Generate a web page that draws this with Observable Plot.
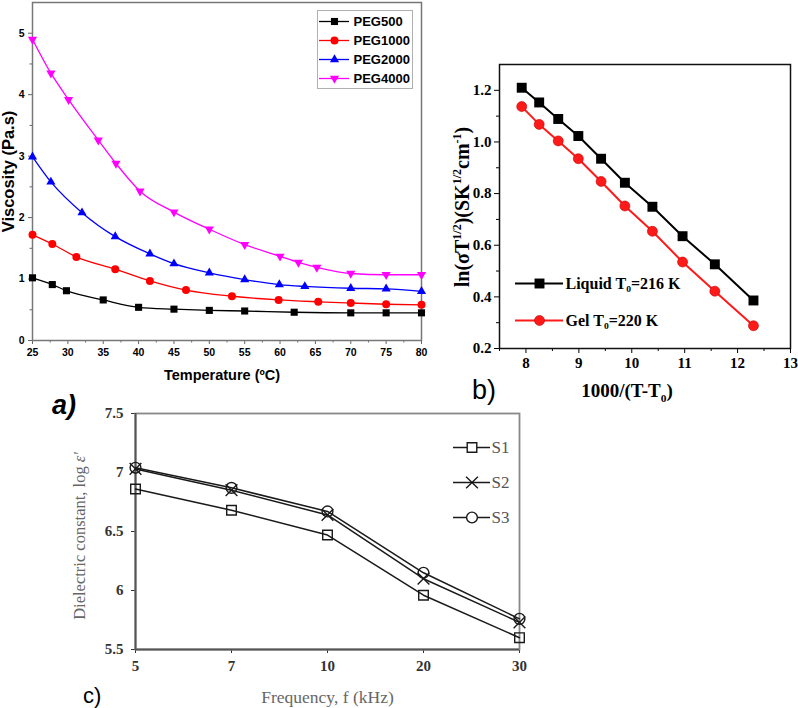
<!DOCTYPE html>
<html>
<head>
<meta charset="utf-8">
<script src="https://cdn.jsdelivr.net/npm/d3@7"></script>
<script src="https://cdn.jsdelivr.net/npm/@observablehq/plot@0.6"></script>
<style>
  body { margin: 0; background: #fff; }
  #page { position: relative; width: 798px; height: 708px; overflow: hidden; }
  .layer { position: absolute; }
  .lbl { position: absolute; white-space: nowrap; line-height: 1; }
  .rot { transform: translate(-50%, -50%) rotate(-90deg); }
  .mid { transform: translate(-50%, -50%); }
  sup, sub { font-size: 0.6em; line-height: 0; }
</style>
</head>
<body>
<div id="page">
  <div class="lbl" style="left:52px;top:390px;font:italic bold 27px 'Liberation Sans';">a)</div>
  <div class="lbl" style="left:472px;top:375px;font:27px 'Liberation Sans';">b)</div>
  <div class="lbl" style="left:83px;top:683px;font:22px 'Liberation Sans';">c)</div>
  <div class="lbl rot" style="left:462px;top:207px;font:bold 20px 'Liberation Serif';">ln(σT<sup>1/2</sup>)(SK<sup>1/2</sup>cm<sup>-1</sup>)</div>
  <div class="lbl mid" style="left:627px;top:391px;font:bold 19px 'Liberation Serif';">1000/(T-T<sub>0</sub>)</div>
  <div class="lbl rot" style="left:80px;top:536px;font:16.5px 'Liberation Serif';color:#666;">Dielectric constant, log <i>ε'</i></div>
</div>
<script>
// a) viscosity vs temperature
const pegNames = ["PEG500", "PEG1000", "PEG2000", "PEG4000"];
const pegColors = ["#000000", "#ff0000", "#0000ff", "#ff00ff"];
const peg500Temp = [25, 27.8, 29.8, 35, 40, 45, 50, 55, 62, 70, 75, 80];
const peg500Visc = [1.02, 0.91, 0.81, 0.66, 0.54, 0.51, 0.49, 0.48, 0.46, 0.45, 0.45, 0.45];
const peg1000Temp = [25, 27.8, 31.2, 36.7, 41.6, 46.7, 53.2, 59.8, 65.4, 70, 75, 80];
const peg1000Visc = [1.72, 1.57, 1.36, 1.16, 0.97, 0.82, 0.72, 0.66, 0.63, 0.61, 0.59, 0.58];
const peg2000Temp = [25, 27.6, 32, 36.7, 41.6, 45, 50, 55, 59.9, 63.5, 70, 75, 80];
const peg2000Visc = [2.99, 2.58, 2.08, 1.69, 1.41, 1.25, 1.10, 0.99, 0.91, 0.88, 0.85, 0.84, 0.80];
const peg4000Temp = [25, 27.6, 30.1, 34.3, 36.8, 40.2, 45, 50, 55, 60, 62.6, 65.2, 70, 75, 80];
const peg4000Visc = [4.90, 4.35, 3.92, 3.26, 2.88, 2.43, 2.09, 1.81, 1.56, 1.37, 1.27, 1.19, 1.09, 1.07, 1.07];
const tempTicks = [25, 30, 35, 40, 45, 50, 55, 60, 65, 70, 75, 80];
const tempMinor = [27.5, 32.5, 37.5, 42.5, 47.5, 52.5, 57.5, 62.5, 67.5, 72.5, 77.5];
const viscTicks = [0, 1, 2, 3, 4, 5];
const viscMinor = [0.5, 1.5, 2.5, 3.5, 4.5];

// b) conductivity vs 1000/(T-T0)
const vtfNames = ["Liquid T₀=216 K", "Gel T₀=220 K"];
const vtfColors = ["#000000", "#ff1a1a"];
const invT = [7.92, 8.25, 8.61, 8.99, 9.42, 9.87, 10.39, 10.96, 11.57, 12.30];
const lnLiquid = [1.21, 1.153, 1.089, 1.023, 0.935, 0.842, 0.749, 0.635, 0.526, 0.386];
const lnGel = [1.137, 1.068, 1.004, 0.935, 0.847, 0.752, 0.654, 0.535, 0.422, 0.288];
const invTTicks = [8, 9, 10, 11, 12, 13];
const invTMinor = [7.5, 8.5, 9.5, 10.5, 11.5, 12.5];
const lnTicks = [0.2, 0.4, 0.6, 0.8, 1.0, 1.2];
const lnMinor = [0.3, 0.5, 0.7, 0.9, 1.1];

// c) dielectric constant vs frequency
const sampleNames = ["S1", "S2", "S3"];
const freqLabels = ["5", "7", "10", "20", "30"];
const s1Eps = [6.86, 6.68, 6.47, 5.96, 5.60];
const s2Eps = [7.03, 6.85, 6.64, 6.10, 5.73];
const s3Eps = [7.04, 6.87, 6.67, 6.15, 5.76];
const epsTicks = [5.5, 6, 6.5, 7, 7.5];

const triangleDown = {
  draw(context, size) {
    const y = -Math.sqrt(size / (Math.sqrt(3) * 3));
    context.moveTo(0, -y * 2);
    context.lineTo(-Math.sqrt(3) * y, y);
    context.lineTo(Math.sqrt(3) * y, y);
    context.closePath();
  }
};
const pegSymbols = [d3.symbolSquare, d3.symbolCircle, d3.symbolTriangle, triangleDown];
const pegR = [4, 4, 3.4, 3.4];
const plain = d => String(d);

const pegTemp = [peg500Temp, peg1000Temp, peg2000Temp, peg4000Temp];
const pegVisc = [peg500Visc, peg1000Visc, peg2000Visc, peg4000Visc];
const pegRows = pegNames.map((name, i) => pegTemp[i].map((t, j) => ({name, t, v: pegVisc[i][j]})));

const vtfRows = [lnLiquid, lnGel].map((ys, i) => invT.map((x, j) => ({name: vtfNames[i], x, y: ys[j]})));
const epsRows = [s1Eps, s2Eps, s3Eps].map((ys, i) => freqLabels.map((f, j) => ({name: sampleNames[i], f, e: ys[j]})));

const page = document.getElementById("page");
function addLayer(svg, left, top, extra = "") {
  const div = document.createElement("div");
  div.className = "layer";
  div.style.cssText = `left:${left}px;top:${top}px;${extra}`;
  div.append(svg);
  page.append(div);
}

// ---------- panel a ----------
const chartA = Plot.plot({
  width: 798, height: 708,
  marginLeft: 32, marginRight: 377, marginTop: 2, marginBottom: 368,
  style: {background: "transparent", overflow: "visible", fontFamily: "Liberation Sans", fontWeight: "bold", fontSize: "10.5px", color: "#000"},
  x: {domain: [25, 80], label: null},
  y: {domain: [0, 5.5], label: null},
  marks: [
    Plot.axisX({ticks: tempTicks, tickSize: 4, tickPadding: 4, tickFormat: plain, label: null, stroke: "#666"}),
    Plot.axisX({ticks: tempMinor, tickSize: 2.5, tickFormat: () => "", label: null, stroke: "#666"}),
    Plot.axisY({ticks: viscTicks, tickSize: 4, tickPadding: 4, tickFormat: plain, label: null, stroke: "#666"}),
    Plot.axisY({ticks: viscMinor, tickSize: 2.5, tickFormat: () => "", label: null, stroke: "#666"}),
    Plot.frame({stroke: "#777", strokeWidth: 1.5}),
    ...pegNames.flatMap((name, i) => [
      Plot.line(pegRows[i], {x: "t", y: "v", stroke: pegColors[i], strokeWidth: 1.3, curve: "monotone-x"}),
      Plot.dot(pegRows[i], {x: "t", y: "v", symbol: pegSymbols[i], fill: pegColors[i], r: pegR[i]})
    ]),
    Plot.text(["Viscosity (Pa.s)"], {frameAnchor: "left", dx: -24, rotate: -90, textAnchor: "middle", lineAnchor: "middle", fontSize: 16.5, fontWeight: "bold"}),
    Plot.text(["Temperature (ºC)"], {frameAnchor: "bottom", dx: -5, dy: 35, textAnchor: "middle", lineAnchor: "middle", fontSize: 14.5, fontWeight: "bold"})
  ]
});
addLayer(chartA, 0, 0);

const legendA = Plot.plot({
  width: 94, height: 77,
  marginLeft: 1, marginRight: 63, marginTop: 9, marginBottom: 9,
  style: {background: "transparent", overflow: "visible", fontFamily: "Liberation Sans", fontWeight: "bold", color: "#000"},
  y: {type: "point", domain: pegNames, padding: 0, axis: null},
  marks: [
    ...pegNames.flatMap((name, i) => [
      Plot.ruleY([name], {stroke: pegColors[i], strokeWidth: 1.3}),
      Plot.dot([name], {y: d => d, symbol: pegSymbols[i], fill: pegColors[i], r: pegR[i]})
    ]),
    Plot.text(pegNames, {y: d => d, frameAnchor: "right", dx: 4, textAnchor: "start", fontSize: 13, fontWeight: "bold"})
  ]
});
addLayer(legendA, 317, 10, "border:1px solid #b0b0b0;width:94px;height:77px;background:#fff;");

// ---------- panel b ----------
const chartB = Plot.plot({
  width: 798, height: 708,
  marginLeft: 499, marginRight: 8, marginTop: 64, marginBottom: 360,
  style: {background: "transparent", overflow: "visible", fontFamily: "Liberation Serif", fontWeight: "bold", fontSize: "15px", color: "#000"},
  x: {domain: [7.5, 13], label: null},
  y: {domain: [0.2, 1.3], label: null},
  marks: [
    Plot.axisX({ticks: invTTicks, tickSize: 5, tickPadding: 4, tickFormat: plain, label: null}),
    Plot.axisX({ticks: invTMinor, tickSize: 3, tickFormat: () => "", label: null}),
    Plot.axisY({ticks: lnTicks, tickSize: 5, tickPadding: 3, tickFormat: d3.format(".1f"), label: null}),
    Plot.axisY({ticks: lnMinor, tickSize: 3, tickFormat: () => "", label: null}),
    Plot.frame({stroke: "#111", strokeWidth: 1.5}),
    Plot.line(vtfRows[0], {x: "x", y: "y", stroke: vtfColors[0], strokeWidth: 2}),
    Plot.line(vtfRows[1], {x: "x", y: "y", stroke: vtfColors[1], strokeWidth: 2}),
    Plot.dot(vtfRows[0], {x: "x", y: "y", symbol: "square", fill: vtfColors[0], r: 5.6}),
    Plot.dot(vtfRows[1], {x: "x", y: "y", symbol: "circle", fill: vtfColors[1], stroke: "#c00000", strokeWidth: 0.6, r: 5})
  ]
});
addLayer(chartB, 0, 0);

const legendB = Plot.plot({
  width: 220, height: 64,
  marginLeft: 5, marginRight: 167, marginTop: 13, marginBottom: 14,
  style: {background: "transparent", overflow: "visible", fontFamily: "Liberation Serif", fontWeight: "bold", color: "#000"},
  y: {type: "point", domain: vtfNames, padding: 0, axis: null},
  marks: [
    Plot.ruleY([vtfNames[0]], {stroke: vtfColors[0], strokeWidth: 2}),
    Plot.ruleY([vtfNames[1]], {stroke: vtfColors[1], strokeWidth: 2}),
    Plot.dot([vtfNames[0]], {y: d => d, symbol: "square", fill: vtfColors[0], r: 5.6}),
    Plot.dot([vtfNames[1]], {y: d => d, symbol: "circle", fill: vtfColors[1], stroke: "#c00000", strokeWidth: 0.6, r: 5}),
    Plot.text(vtfNames, {y: d => d, frameAnchor: "right", dx: 2, textAnchor: "start", fontSize: 16, fontWeight: "bold"})
  ]
});
addLayer(legendB, 510, 270);

// ---------- panel c ----------
const epsSymbols = ["square", "times", "circle"];
const chartC = Plot.plot({
  width: 798, height: 708,
  marginLeft: 135, marginRight: 279, marginTop: 413, marginBottom: 59,
  style: {background: "transparent", overflow: "visible", fontFamily: "Liberation Serif", fontWeight: "bold", fontSize: "15px", color: "#333"},
  x: {type: "point", domain: freqLabels, padding: 0, label: null},
  y: {domain: [5.5, 7.5], label: null},
  marks: [
    Plot.axisX({tickSize: 4, tickPadding: 7, label: null}),
    Plot.axisY({ticks: epsTicks, tickSize: 4, tickPadding: 8, tickFormat: plain, label: null}),
    Plot.frame({stroke: "#888", strokeWidth: 1.8}),
    Plot.ruleX([freqLabels[0]], {stroke: "#555", strokeWidth: 2}),
    Plot.ruleY([epsTicks[0]], {stroke: "#555", strokeWidth: 2}),
    ...sampleNames.flatMap((name, i) => [
      Plot.line(epsRows[i], {x: "f", y: "e", stroke: "#1a1a1a", strokeWidth: 1.5}),
      Plot.dot(epsRows[i], {x: "f", y: "e", symbol: epsSymbols[i], stroke: "#1a1a1a", fill: "none", strokeWidth: 1.4, r: 5.4})
    ]),
    Plot.text(["Frequency, f (kHz)"], {frameAnchor: "bottom", dy: 48, textAnchor: "middle", lineAnchor: "middle", fontSize: 17.5, fontWeight: "normal", fill: "#666"})
  ]
});
addLayer(chartC, 0, 0);

const legendC = Plot.plot({
  width: 80, height: 100,
  marginLeft: 8, marginRight: 35, marginTop: 17, marginBottom: 13,
  style: {background: "transparent", overflow: "visible", fontFamily: "Liberation Serif", color: "#555"},
  y: {type: "point", domain: sampleNames, padding: 0, axis: null},
  marks: [
    ...sampleNames.flatMap((name, i) => [
      Plot.ruleY([name], {stroke: "#1a1a1a", strokeWidth: 1.5}),
      Plot.dot([name], {y: d => d, symbol: epsSymbols[i], stroke: "#1a1a1a", fill: "white", strokeWidth: 1.4, r: 5.4})
    ]),
    Plot.text(sampleNames, {y: d => d, frameAnchor: "right", dx: 1, textAnchor: "start", fontSize: 17, fill: "#555"})
  ]
});
addLayer(legendC, 445, 430);
</script>
</body>
</html>
